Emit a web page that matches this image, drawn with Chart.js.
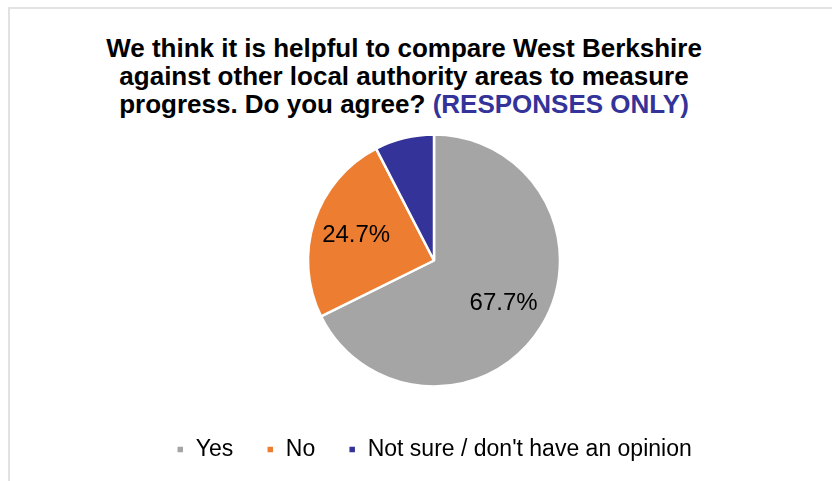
<!DOCTYPE html>
<html>
<head>
<meta charset="utf-8">
<title>Compare West Berkshire</title>
<script src="https://cdn.jsdelivr.net/npm/chart.js@4"></script>
<style>
    html, body {
        margin: 0;
        padding: 0;
        background: #ffffff;
        overflow: hidden;
    }

    .frame {
        position: absolute;
        left: 8px;
        top: 7px;
        width: 840px;
        height: 490px;
        border-top: 2px solid #e2e2e2;
        border-left: 2px solid #e2e2e2;
    }

    .title {
        position: absolute;
        left: 0;
        top: 34px;
        width: 808px;
        text-align: center;
        font-family: "Liberation Sans", Arial, sans-serif;
        font-weight: bold;
        font-size: 26px;
        line-height: 28px;
        color: #000000;
    }

    .title span {
        color: #333399;
    }

    #wrap {
        position: absolute;
        left: 0;
        top: 0;
        width: 832px;
        height: 481px;
    }
</style>
</head>
<body>

<div class="frame"></div>

<div class="title">
    We think it is helpful to compare West Berkshire<br>
    against other local authority areas to measure<br>
    progress. Do you agree? <span>(RESPONSES ONLY)</span>
</div>

<div id="wrap">
    <canvas id="agreeChart"></canvas>
</div>

<script>
const categories = ["Yes", "No", "Not sure / don't have an opinion"];
const shares = [67.7, 24.7, 7.6];
const sliceColours = ["#A5A5A5", "#ED7D31", "#333399"];
// the small "not sure" slice carries no label
const showLabel = [true, true, false];

/*=========================================
SLICE LABELS
=========================================*/
const sliceLabels = {
    id: "sliceLabels",
    afterDatasetsDraw(chart) {
        const ctx = chart.ctx;
        const meta = chart.getDatasetMeta(0);
        ctx.save();
        ctx.font = "24px 'Liberation Sans', Arial, sans-serif";
        ctx.fillStyle = "#000000";
        ctx.textAlign = "center";
        ctx.textBaseline = "middle";
        meta.data.forEach(function (arc, i) {
            if (!showLabel[i]) return;
            const p = arc.getProps(["x", "y", "startAngle", "endAngle", "outerRadius"], true);
            const mid = (p.startAngle + p.endAngle) / 2;
            const r = p.outerRadius * 0.65;
            ctx.fillText(shares[i].toFixed(1) + "%", p.x + Math.cos(mid) * r, p.y + Math.sin(mid) * r);
        });
        ctx.restore();
    }
};

document.addEventListener("DOMContentLoaded", function () {

    const canvas = document.getElementById("agreeChart");

    if (!canvas) return;

    new Chart(canvas, {
        type: "pie",
        data: {
            labels: categories,
            datasets: [
                {
                    data: shares,
                    backgroundColor: sliceColours,
                    borderColor: "#ffffff",
                    borderWidth: 2.5
                }
            ]
        },
        options: {
            responsive: true,
            maintainAspectRatio: false,
            animation: false,
            radius: 126,
            layout: {
                padding: { top: 116, bottom: 10, left: 98, right: 62 }
            },
            plugins: {
                legend: {
                    position: "bottom",
                    labels: {
                        boxWidth: 8,
                        boxHeight: 8,
                        padding: 33,
                        color: "#000000",
                        font: { family: "'Liberation Sans', Arial, sans-serif", size: 23 }
                    }
                },
                tooltip: { enabled: false }
            }
        },
        plugins: [sliceLabels]
    });

});
</script>
</body>
</html>
